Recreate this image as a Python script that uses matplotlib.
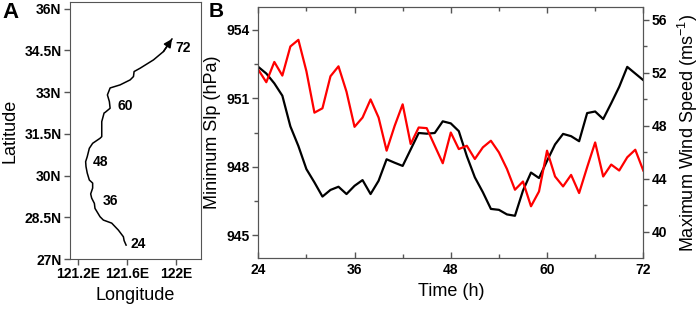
import matplotlib
matplotlib.use("Agg")
import matplotlib.pyplot as plt
import numpy as np

plt.rcParams["font.family"] = ["Liberation Sans", "DejaVu Sans"]
plt.rcParams["mathtext.default"] = "regular"

# ── Panel A: storm track ─────────────────────────
track_lon = [121.594, 121.578, 121.572, 121.531, 121.477, 121.409, 121.382, 121.341,
             121.336, 121.314, 121.306, 121.322, 121.322, 121.295, 121.278, 121.268,
             121.265, 121.278, 121.295, 121.322, 121.382, 121.396, 121.396, 121.396,
             121.415, 121.423, 121.464, 121.458, 121.442, 121.464, 121.545, 121.627,
             121.654, 121.659, 121.708, 121.817, 121.898, 121.967]
track_lat = [27.50, 27.66, 27.80, 28.04, 28.29, 28.40, 28.52, 28.82,
             29.00, 29.19, 29.34, 29.55, 29.73, 29.84, 30.09, 30.32,
             30.50, 30.68, 30.98, 31.16, 31.34, 31.40, 31.70, 31.94,
             32.25, 32.27, 32.42, 32.66, 32.90, 33.15, 33.26, 33.44,
             33.56, 33.74, 33.86, 34.16, 34.46, 34.91]
hour_labels = ["24", "36", "48", "60", "72"]
hour_lon = [121.69, 121.464, 121.388, 121.586, 122.06]
hour_lat = [27.54, 29.10, 30.48, 32.51, 34.60]

lon_ticks = [121.2, 121.6, 122.0]
lon_ticklabels = ["121.2E", "121.6E", "122E"]
lat_ticks = [27, 28.5, 30, 31.5, 33, 34.5, 36]
lat_ticklabels = ["27N", "28.5N", "30N", "31.5N", "33N", "34.5N", "36N"]

# ── Panel B: intensity time series (hourly) ──────
hours = list(range(24, 73))
min_slp = [952.37, 952.08, 951.65, 951.11, 949.77, 948.91, 947.90, 947.32, 946.70, 946.99,
           947.13, 946.81, 947.17, 947.42, 946.81, 947.39, 948.33, 948.18, 948.04, 948.76,
           949.48, 949.45, 949.48, 949.99, 949.90, 949.56, 948.47, 947.54, 946.89, 946.16,
           946.12, 945.92, 945.86, 946.96, 947.75, 947.51, 948.26, 948.98, 949.44, 949.34,
           949.12, 950.35, 950.42, 950.09, 950.78, 951.50, 952.37, 952.08, 951.79]
max_wind = [52.25, 51.30, 52.83, 51.80, 54.00, 54.50, 52.13, 49.00, 49.33, 51.75,
            52.50, 50.58, 47.93, 48.63, 50.00, 48.63, 46.13, 48.00, 49.63, 46.63,
            47.88, 47.83, 46.50, 45.18, 47.50, 46.25, 46.50, 45.50, 46.38, 46.88,
            46.00, 44.75, 43.18, 43.80, 41.93, 43.05, 46.13, 44.18, 43.43, 44.30,
            42.93, 44.88, 46.75, 44.18, 45.08, 44.63, 45.63, 46.20, 44.63]

SPINE = "#555555"
TICKFONT = dict(fontsize=10, fontweight="bold")

fig = plt.figure(figsize=(6.99, 3.10), dpi=100)

# Panel A
axA = fig.add_axes([0.100, 0.1645, 0.187, 0.829])
axA.plot(track_lon, track_lat, color="black", linewidth=1.1)
axA.annotate("", xy=(track_lon[-1], track_lat[-1]), xytext=(track_lon[-2], track_lat[-2]),
             arrowprops=dict(arrowstyle="-|>", color="black", lw=1.1,
                             mutation_scale=12, shrinkA=0, shrinkB=0))
for lab, x, y in zip(hour_labels, hour_lon, hour_lat):
    axA.text(x, y, lab, fontsize=10, fontweight="bold", ha="center", va="center")
axA.set_xlim(121.137, 122.2)
axA.set_ylim(27, 36.24)
axA.set_xticks(lon_ticks)
axA.set_xticklabels(lon_ticklabels, **TICKFONT)
axA.set_yticks(lat_ticks)
axA.set_yticklabels(lat_ticklabels, **TICKFONT)
axA.set_xlabel("Longitude", fontsize=13)
axA.set_ylabel("Latitude", fontsize=13)
axA.tick_params(direction="out", length=4, width=1, color=SPINE, pad=2)
for s in axA.spines.values():
    s.set_color(SPINE)

# Panel B
axB = fig.add_axes([0.3695, 0.1667, 0.5508, 0.8116])
axB.plot(hours, min_slp, color="black", linewidth=1.6)
axB.set_xlim(24, 72)
axB.set_ylim(944, 955)
axB.set_xticks([24, 36, 48, 60, 72])
axB.set_xticks([30, 42, 54, 66], minor=True)
axB.set_xticklabels(["24", "36", "48", "60", "72"], **TICKFONT)
axB.set_yticks([945, 948, 951, 954])
axB.set_yticks([946.5, 949.5, 952.5], minor=True)
axB.set_yticklabels(["945", "948", "951", "954"], **TICKFONT)
axB.set_xlabel("Time (h)", fontsize=13)
axB.set_ylabel("Minimum Slp (hPa)", fontsize=13)
axB.tick_params(axis="x", which="both", direction="in", top=True, color=SPINE, width=1)
axB.tick_params(axis="x", which="major", length=4)
axB.tick_params(axis="x", which="minor", length=3)
axB.tick_params(axis="y", which="both", direction="out", color=SPINE, width=1, pad=2)
axB.tick_params(axis="y", which="major", length=4)
axB.tick_params(axis="y", which="minor", length=3)

axR = axB.twinx()
axR.plot(hours, max_wind, color="#ff0000", linewidth=1.6)
axR.set_ylim(38, 57)
axR.set_yticks([40, 44, 48, 52, 56])
axR.set_yticks([42, 46, 50, 54], minor=True)
axR.set_yticklabels(["40", "44", "48", "52", "56"], **TICKFONT)
axR.set_ylabel("Maximum Wind Speed (ms$^{-1}$)", fontsize=13, labelpad=6)
axR.tick_params(axis="y", which="both", direction="out", color=SPINE, width=1, pad=2)
axR.tick_params(axis="y", which="major", length=4)
axR.tick_params(axis="y", which="minor", length=3)
for ax in (axB, axR):
    for s in ax.spines.values():
        s.set_color(SPINE)

fig.text(0.003, 0.995, "A", fontsize=16, fontweight="bold", va="top", ha="left")
fig.text(0.298, 0.995, "B", fontsize=15, fontweight="bold", va="top", ha="left")

fig.savefig("out.png", dpi=100)
